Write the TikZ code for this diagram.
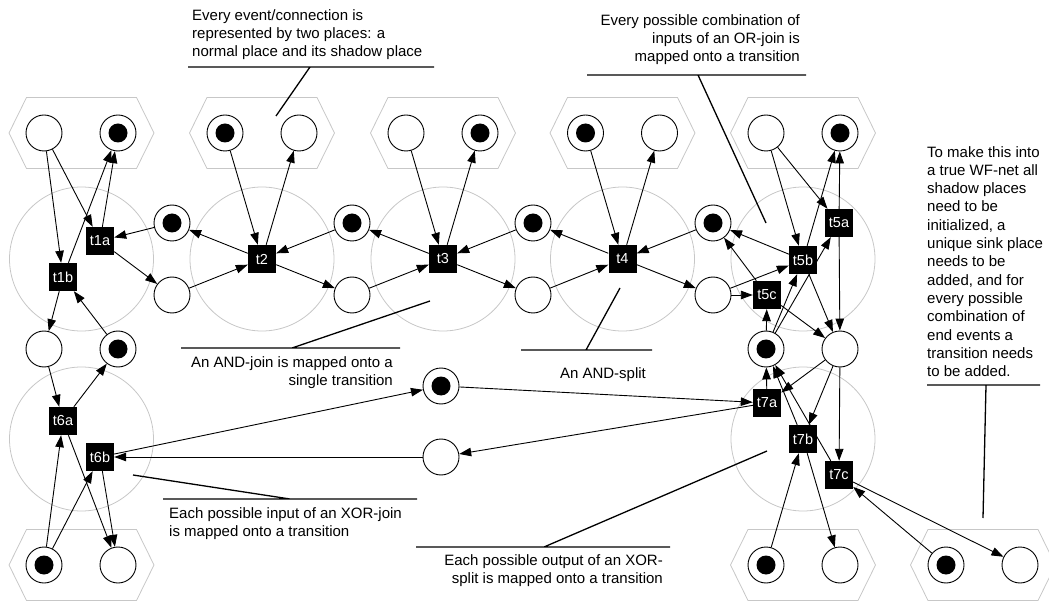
\documentclass[tikz,border=0pt]{standalone}
\usepackage{fontspec}
\setmainfont{Liberation Sans}
\usetikzlibrary{arrows.meta}
\begin{document}
\begin{tikzpicture}[x=1pt,y=-1pt,
  place/.style={circle,draw,fill=white,line width=0.9pt,minimum size=36pt,inner sep=0pt},
  token/.style={place,path picture={\fill[black] (path picture bounding box.center) circle (9.5pt);}},
  trans/.style={rectangle,fill=black,text=white,minimum size=28pt,inner sep=0pt,font=\fontsize{14.5}{17}\selectfont},
  arc/.style={-{Triangle[length=12pt,width=8.5pt]},line width=0.9pt},
  group/.style={draw=black!22,line width=0.8pt},
  note/.style={font=\fontsize{15}{18.3}\selectfont,inner sep=0pt},
  pointer/.style={line width=1.3pt},
  hexgroup/.pic={\draw[group] (-72.5,0) -- (-55,-35.5) -- (55,-35.5) -- (72.5,0) -- (55,35.5) -- (-55,35.5) -- cycle;}]
\useasboundingbox (0,0) rectangle (1049,601);

% grey groupings: place pairs (hexagons) and transition clusters (circles)
\foreach \cx in {81.5,262,443,622.5,803} {
  \pic at (\cx,133) {hexgroup};
  \draw[group] (\cx,259) circle (72pt);
}
\foreach \cx in {81.5,803,983} { \pic at (\cx,565) {hexgroup}; }
\draw[group] (81.5,439) circle (72pt);
\draw[group] (803,439) circle (72pt);

% places in the top pairs
\node[place] (a1)  at (44,133)    {};
\node[token] (a1s) at (118,133)   {};
\node[token] (b1s) at (225,133)   {};
\node[place] (b1)  at (299,133)   {};
\node[place] (c1)  at (406,133)   {};
\node[token] (c1s) at (480,133)   {};
\node[token] (d1s) at (585.5,133) {};
\node[place] (d1)  at (659.5,133) {};
\node[place] (e1)  at (766,133)   {};
\node[token] (e1s) at (840,133)   {};

% connection places between the clusters
\node[token] (r12) at (172,223) {};
\node[place] (q12) at (172,295) {};
\node[token] (r23) at (352,223) {};
\node[place] (q23) at (352,295) {};
\node[token] (r34) at (533,223) {};
\node[place] (q34) at (533,295) {};
\node[token] (r45) at (713,223) {};
\node[place] (q45) at (713,295) {};

\node[place] (l1) at (44,349)  {};
\node[token] (l2) at (118,349) {};
\node[token] (k1) at (766,349) {};
\node[place] (k2) at (840,349) {};

\node[token] (m1) at (441,386) {};
\node[place] (m2) at (441,457) {};

% places in the bottom pairs
\node[token] (f1s) at (44,565)   {};
\node[place] (f1)  at (118,565)  {};
\node[token] (g1s) at (766,565)  {};
\node[place] (g1)  at (840,565)  {};
\node[token] (h1s) at (946,565)  {};
\node[place] (h1)  at (1020,565) {};

% transitions
\node[trans] (t1a) at (100,241)   {t1a};
\node[trans] (t1b) at (63,277)    {t1b};
\node[trans] (t2)  at (262,259)   {t2};
\node[trans] (t3)  at (443,259)   {t3};
\node[trans] (t4)  at (622.5,259) {t4};
\node[trans] (t5a) at (839,223)   {t5a};
\node[trans] (t5b) at (803,260)   {t5b};
\node[trans] (t5c) at (767,295)   {t5c};
\node[trans] (t6a) at (63,421)    {t6a};
\node[trans] (t6b) at (100,457)   {t6b};
\node[trans] (t7a) at (767,403)   {t7a};
\node[trans] (t7b) at (803,439)   {t7b};
\node[trans] (t7c) at (839,475)   {t7c};

% arcs of the start XOR-split
\draw[arc] (a1) -- (t1a);
\draw[arc] (a1) -- (t1b);
\draw[arc] (t1a) -- (a1s);
\draw[arc] (t1b) -- (a1s);
\draw[arc] (r12) -- (t1a);
\draw[arc] (t1a) -- (q12);
\draw[arc] (l2) -- (t1b);
\draw[arc] (t1b) -- (l1);

% arcs of the XOR-join t6
\draw[arc] (l1) -- (t6a);
\draw[arc] (t6a) -- (l2);
\draw[arc] (f1s) -- (t6a);
\draw[arc] (f1s) -- (t6b);
\draw[arc] (t6a) -- (f1);
\draw[arc] (t6b) -- (f1);
\draw[arc] (m2) -- (t6b);
\draw[arc] (t6b) -- (m1);

% chain t2 - t3 - t4
\draw[arc] (q12) -- (t2);
\draw[arc] (t2) -- (r12);
\draw[arc] (r23) -- (t2);
\draw[arc] (t2) -- (q23);
\draw[arc] (b1s) -- (t2);
\draw[arc] (t2) -- (b1);
\draw[arc] (q23) -- (t3);
\draw[arc] (t3) -- (r23);
\draw[arc] (r34) -- (t3);
\draw[arc] (t3) -- (q34);
\draw[arc] (c1) -- (t3);
\draw[arc] (t3) -- (c1s);
\draw[arc] (q34) -- (t4);
\draw[arc] (t4) -- (r34);
\draw[arc] (r45) -- (t4);
\draw[arc] (t4) -- (q45);
\draw[arc] (d1s) -- (t4);
\draw[arc] (t4) -- (d1);

% OR-join t5
\draw[arc] (e1) -- (t5a);
\draw[arc] (t5a) -- (e1s);
\draw[arc] (k1) -- (t5a);
\draw[arc] (t5a) -- (k2);
\draw[arc] (e1) -- (t5b);
\draw[arc] (t5b) -- (e1s);
\draw[arc] (q45) -- (t5b);
\draw[arc] (t5b) -- (r45);
\draw[arc] (k1) -- (t5b);
\draw[arc] (t5b) -- (k2);
\draw[arc] (q45) -- (t5c);
\draw[arc] (t5c) -- (r45);
\draw[arc] (k1) -- (t5c);
\draw[arc] (t5c) -- (k2);

% XOR-split t7
\draw[arc] (k2) -- (t7a);
\draw[arc] (t7a) -- (k1);
\draw[arc] (m1) -- (t7a);
\draw[arc] (t7a) -- (m2);
\draw[arc] (k2) -- (t7b);
\draw[arc] (t7b) -- (k1);
\draw[arc] (g1s) -- (t7b);
\draw[arc] (t7b) -- (g1);
\draw[arc] (k2) -- (t7c);
\draw[arc] (t7c) -- (k1);
\draw[arc] (h1s) -- (t7c);
\draw[arc] (t7c) -- (h1);

% annotations
\node[note,anchor=north west,align=left] (n1) at (192,9)
  {Every event/connection is\\represented by two places: a\\normal place and its shadow place};
\coordinate (n1a) at (188,67);  \coordinate (n1b) at (434,67);
\coordinate (n1c) at (310,67);  \coordinate (n1d) at (276,116);
\draw[pointer] (n1a) -- (n1b) (n1c) -- (n1d);

\node[note,anchor=north east,align=right] (n2) at (800,14)
  {Every possible combination of\\inputs of an OR-join is\\mapped onto a transition};
\coordinate (n2a) at (587,75);  \coordinate (n2b) at (806,75);
\coordinate (n2c) at (698,75);  \coordinate (n2d) at (766,223);
\draw[pointer] (n2a) -- (n2b) (n2c) -- (n2d);

\node[note,anchor=north east,align=right] (n3) at (393,356)
  {An AND-join is mapped onto a\\single transition};
\coordinate (n3a) at (181,348); \coordinate (n3b) at (400,348);
\coordinate (n3c) at (292,348); \coordinate (n3d) at (430,301);
\draw[pointer] (n3a) -- (n3b) (n3c) -- (n3d);

\node[note,anchor=base] (n4) at (603,378) {An AND-split};
\coordinate (n4a) at (521,350); \coordinate (n4b) at (652,350);
\coordinate (n4c) at (586,350); \coordinate (n4d) at (620,288);
\draw[pointer] (n4a) -- (n4b) (n4c) -- (n4d);

\node[note,anchor=north west,align=left] (n5) at (169,507)
  {Each possible input of an XOR-join\\is mapped onto a transition};
\coordinate (n5a) at (163,499); \coordinate (n5b) at (417,499);
\coordinate (n5c) at (290,499); \coordinate (n5d) at (133,475);
\draw[pointer] (n5a) -- (n5b) (n5c) -- (n5d);

\node[note,anchor=north east,align=right] (n6) at (663,554)
  {Each possible output of an XOR-\\split is mapped onto a transition};
\coordinate (n6a) at (416,547); \coordinate (n6b) at (670,547);
\coordinate (n6c) at (544,547); \coordinate (n6d) at (767,451);
\draw[pointer] (n6a) -- (n6b) (n6c) -- (n6d);

\node[note,anchor=north west,align=left] (n7) at (927,146)
  {To make this into\\a true WF-net all\\shadow places\\need to be\\initialized, a\\unique sink place\\needs to be\\added, and for\\every possible\\combination of\\end events a\\transition needs\\to be added.};
\coordinate (n7a) at (927,385); \coordinate (n7b) at (1040,385);
\coordinate (n7c) at (986,385); \coordinate (n7d) at (983,518);
\draw[pointer] (n7a) -- (n7b) (n7c) -- (n7d);
\end{tikzpicture}
\end{document}
